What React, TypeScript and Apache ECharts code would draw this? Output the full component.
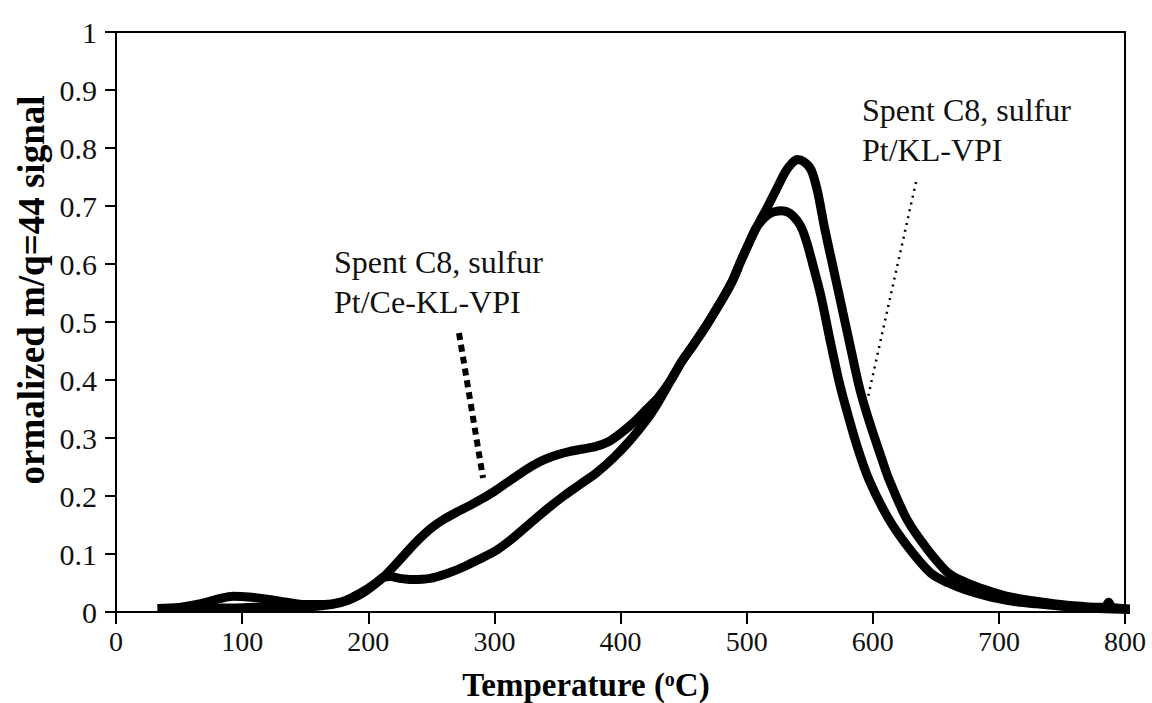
import React, { useEffect, useRef } from "react";
import * as echarts from "echarts";

// Pt/Ce-KL-VPI (shoulder, lower peak)
const tempCe = [33, 50, 65, 80, 95, 110, 130, 150, 165, 178, 188, 198, 206, 212, 220, 230, 240, 250, 260, 270, 280, 290, 300, 310, 320, 330, 340, 350, 360, 370, 380, 390, 400, 410, 421, 430, 440, 448, 457, 466, 474, 482, 489, 495, 501, 507, 512, 517, 522, 528, 534, 540, 544, 548, 552, 559, 566, 573, 577, 587, 597, 612, 628, 646, 660, 674, 690, 710, 730, 750, 770, 790, 806];
const sigCe = [0.006, 0.006, 0.006, 0.007, 0.007, 0.008, 0.009, 0.009, 0.011, 0.016, 0.024, 0.036, 0.049, 0.06, 0.078, 0.102, 0.125, 0.145, 0.16, 0.172, 0.183, 0.195, 0.208, 0.223, 0.238, 0.252, 0.263, 0.271, 0.277, 0.281, 0.285, 0.293, 0.308, 0.326, 0.35, 0.37, 0.4, 0.43, 0.458, 0.487, 0.515, 0.544, 0.572, 0.603, 0.632, 0.66, 0.675, 0.685, 0.69, 0.692, 0.688, 0.675, 0.66, 0.635, 0.603, 0.544, 0.47, 0.4, 0.366, 0.29, 0.228, 0.163, 0.112, 0.067, 0.05, 0.038, 0.028, 0.019, 0.014, 0.01, 0.007, 0.005, 0.004];

// Pt/KL-VPI (higher peak)
const tempKl = [33, 50, 62, 72, 82, 93, 105, 120, 135, 150, 165, 178, 188, 198, 206, 212, 218, 225, 235, 249, 262, 276, 289, 302, 315, 329, 342, 355, 368, 381, 395, 408, 421, 430, 440, 448, 457, 466, 474, 482, 489, 495, 501, 507, 511, 516, 523, 531, 536, 540, 545, 551, 556, 562, 568, 574, 581, 588, 592, 600, 607, 613, 627, 642, 660, 675, 690, 705, 725, 745, 765, 781, 785, 787, 789, 793, 806];
const sigKl = [0.006, 0.008, 0.012, 0.017, 0.023, 0.027, 0.026, 0.022, 0.017, 0.013, 0.013, 0.017, 0.026, 0.038, 0.05, 0.06, 0.061, 0.058, 0.056, 0.058, 0.066, 0.078, 0.092, 0.107, 0.128, 0.154, 0.178, 0.2, 0.22, 0.24, 0.267, 0.297, 0.332, 0.362, 0.4, 0.43, 0.458, 0.487, 0.515, 0.544, 0.572, 0.603, 0.632, 0.66, 0.676, 0.696, 0.726, 0.76, 0.774, 0.78, 0.777, 0.763, 0.727, 0.66, 0.6, 0.54, 0.47, 0.4, 0.366, 0.31, 0.265, 0.228, 0.16, 0.112, 0.067, 0.05, 0.038, 0.028, 0.02, 0.014, 0.01, 0.008, 0.01, 0.017, 0.01, 0.007, 0.005];

const xTitle = "Temperature ({sup|o}C)";
const yTitle = "ormalized m/q=44 signal";
const labelKl = "Spent C8, sulfur\nPt/KL-VPI";
const labelCe = "Spent C8, sulfur\nPt/Ce-KL-VPI";

const SERIF = "'Liberation Serif', 'Times New Roman', Times, serif";

export default function App() {
  const ref = useRef<HTMLDivElement>(null);
  useEffect(() => {
    if (!ref.current) return;
    const chart = echarts.init(ref.current, null, { renderer: "svg" });
    const lineStyle = { color: "#000", width: 9, cap: "butt", join: "round" };
    chart.setOption({
      animation: false,
      backgroundColor: "#fff",
      grid: {
        left: 116,
        right: 27,
        top: 32,
        bottom: 91,
        show: true,
        borderColor: "#000",
        borderWidth: 2,
        backgroundColor: "transparent",
      },
      xAxis: {
        type: "value",
        min: 0,
        max: 800,
        interval: 100,
        axisLine: { show: true, onZero: false, lineStyle: { color: "#000", width: 2 } },
        axisTick: { show: true, inside: false, length: 12, lineStyle: { color: "#000", width: 2 } },
        splitLine: { show: false },
        axisLabel: { color: "#111", fontSize: 28, fontFamily: SERIF, margin: 15 },
      },
      yAxis: {
        type: "value",
        min: 0,
        max: 1,
        interval: 0.1,
        axisLine: { show: true, lineStyle: { color: "#000", width: 2 } },
        axisTick: { show: true, inside: false, length: 11, lineStyle: { color: "#000", width: 2 } },
        splitLine: { show: false },
        axisLabel: {
          color: "#111",
          fontSize: 30,
          fontFamily: SERIF,
          margin: 19,
          formatter: (v: number) => (Math.abs(v) < 1e-9 ? "0" : Math.abs(v - 1) < 1e-9 ? "1" : v.toFixed(1)),
        },
      },
      series: [
        {
          name: "Pt/Ce-KL-VPI",
          type: "line",
          data: tempCe.map((t, i) => [t, sigCe[i]]),
          showSymbol: false,
          symbol: "none",
          smooth: 0.3,
          clip: false,
          lineStyle,
        },
        {
          name: "Pt/KL-VPI",
          type: "line",
          data: tempKl.map((t, i) => [t, sigKl[i]]),
          showSymbol: false,
          symbol: "none",
          smooth: 0.3,
          clip: false,
          lineStyle,
        },
      ],
      graphic: [
        {
          type: "text",
          x: 586,
          y: 685,
          style: {
            text: xTitle,
            fontFamily: SERIF,
            fontSize: 33,
            fontWeight: "bold",
            fill: "#000",
            textAlign: "center",
            textVerticalAlign: "middle",
            rich: {
              sup: { fontFamily: SERIF, fontSize: 20, fontWeight: "bold", verticalAlign: "top", padding: [0, 0, 12, 0] },
            },
          },
        },
        {
          type: "text",
          x: 31,
          y: 290,
          rotation: Math.PI / 2,
          style: {
            text: yTitle,
            fontFamily: SERIF,
            fontSize: 37,
            fontWeight: "bold",
            fill: "#000",
            textAlign: "center",
            textVerticalAlign: "middle",
          },
        },
        {
          type: "text",
          x: 862,
          y: 90,
          style: {
            text: labelKl,
            fontFamily: SERIF,
            fontSize: 32,
            lineHeight: 40,
            fill: "#111",
            textAlign: "left",
            textVerticalAlign: "top",
          },
        },
        {
          type: "text",
          x: 334,
          y: 242,
          style: {
            text: labelCe,
            fontFamily: SERIF,
            fontSize: 32,
            lineHeight: 40,
            fill: "#111",
            textAlign: "left",
            textVerticalAlign: "top",
          },
        },
        {
          type: "line",
          shape: { x1: 459, y1: 333, x2: 483, y2: 478 },
          style: { stroke: "#000", lineWidth: 6, lineDash: [7, 5] },
        },
        {
          type: "line",
          shape: { x1: 916, y1: 182, x2: 868, y2: 397 },
          style: { stroke: "#000", lineWidth: 2.5, lineDash: [2, 5] },
        },
      ],
    });
    return () => chart.dispose();
  }, []);
  return (
    <div
      ref={ref}
      style={{ position: "absolute", left: 0, top: 0, width: 1152, height: 703, background: "#fff" }}
    />
  );
}
